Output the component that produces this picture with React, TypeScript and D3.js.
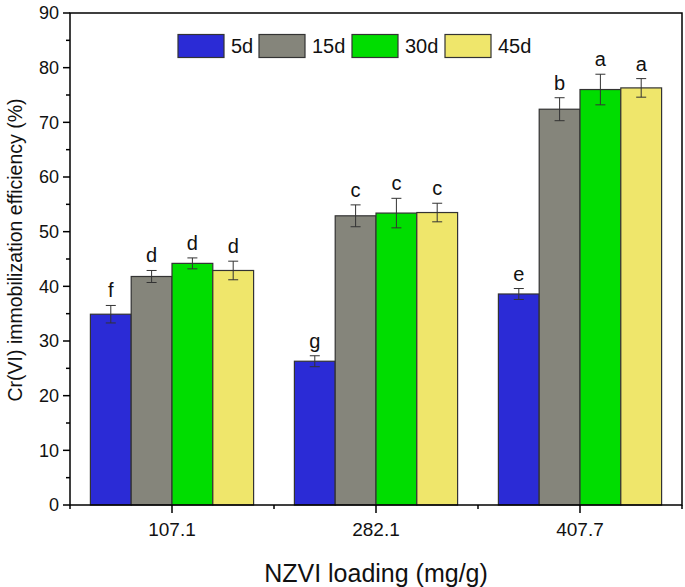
import React from 'react';
import * as d3 from 'd3';

const loadings = ['107.1', '282.1', '407.7'];
const periods = ['5d', '15d', '30d', '45d'];
const colors = ['#2b2bd6', '#85857b', '#00dd00', '#efe66b'];

// efficiency (%) per loading, one value per period
const means = [
  [34.9, 41.8, 44.2, 42.9],
  [26.3, 52.9, 53.4, 53.5],
  [38.6, 72.4, 76.0, 76.3],
];
const errors = [
  [1.6, 1.1, 1.0, 1.7],
  [1.0, 2.0, 2.7, 1.7],
  [1.0, 2.1, 2.8, 1.7],
];
const letters = [
  ['f', 'd', 'd', 'd'],
  ['g', 'c', 'c', 'c'],
  ['e', 'b', 'a', 'a'],
];
const yTicks = [0, 10, 20, 30, 40, 50, 60, 70, 80, 90];

const W = 685;
const H = 587;
const m = { left: 70, right: 3, top: 13, bottom: 82 };
const font = 'Liberation Sans, Arial, sans-serif';

export default function App() {
  const x = d3
    .scaleBand()
    .domain(loadings)
    .range([m.left, W - m.right])
    .paddingInner(0.2)
    .paddingOuter(0.1);
  const xs = d3.scaleBand().domain(periods).range([0, x.bandwidth()]);
  const y = d3.scaleLinear().domain([0, 90]).range([H - m.bottom, m.top]);

  const minorY = d3.range(5, 90, 10);
  const step = x.step();
  const minorX = [0, 1, 2, 3].map((i) => m.left + i * step);

  const legendX = [178, 259, 352, 445];

  return (
    <svg
      width={W}
      height={H}
      style={{ position: 'absolute', left: 0, top: 0, background: '#fff' }}
      fontFamily={font}
    >
      {loadings.map((g, gi) => (
        <g key={g} transform={`translate(${x(g)},0)`}>
          {periods.map((p, pi) => {
            const v = means[gi][pi];
            const e = errors[gi][pi];
            const bx = xs(p)!;
            const cx = bx + xs.bandwidth() / 2;
            return (
              <g key={p}>
                <rect
                  x={bx}
                  y={y(v)}
                  width={xs.bandwidth()}
                  height={y(0) - y(v)}
                  fill={colors[pi]}
                  stroke="#333"
                  strokeWidth={1.2}
                />
                <g stroke="#333" strokeWidth={1}>
                  <line x1={cx} x2={cx} y1={y(v + e)} y2={y(v - e)} />
                  <line x1={cx - 5} x2={cx + 5} y1={y(v + e)} y2={y(v + e)} />
                  <line x1={cx - 5} x2={cx + 5} y1={y(v - e)} y2={y(v - e)} />
                </g>
                <text
                  x={cx}
                  y={y(v + e) - 8}
                  textAnchor="middle"
                  fontSize={20}
                  fill="#111"
                >
                  {letters[gi][pi]}
                </text>
              </g>
            );
          })}
        </g>
      ))}

      {/* frame */}
      <rect
        x={m.left}
        y={m.top}
        width={W - m.right - m.left}
        height={y(0) - m.top}
        fill="none"
        stroke="#000"
        strokeWidth={1.5}
      />

      {/* y axis */}
      {yTicks.map((t) => (
        <g key={t}>
          <line x1={m.left - 7} x2={m.left} y1={y(t)} y2={y(t)} stroke="#000" strokeWidth={1.5} />
          <text x={m.left - 11} y={y(t)} dy="0.35em" textAnchor="end" fontSize={18} fill="#111">
            {t}
          </text>
        </g>
      ))}
      {minorY.map((t) => (
        <line key={t} x1={m.left - 4} x2={m.left} y1={y(t)} y2={y(t)} stroke="#000" strokeWidth={1.5} />
      ))}

      {/* x axis */}
      {loadings.map((g) => {
        const cx = x(g)! + x.bandwidth() / 2;
        return (
          <g key={g}>
            <line x1={cx} x2={cx} y1={y(0)} y2={y(0) + 8} stroke="#000" strokeWidth={1.5} />
            <text x={cx} y={y(0) + 31} textAnchor="middle" fontSize={19} fill="#111">
              {g}
            </text>
          </g>
        );
      })}
      {minorX.map((mx, i) => (
        <line key={i} x1={mx} x2={mx} y1={y(0)} y2={y(0) + 4} stroke="#000" strokeWidth={1.5} />
      ))}

      <text x={376} y={582} textAnchor="middle" fontSize={25} fill="#111">
        NZVI loading (mg/g)
      </text>
      <text
        transform="translate(22,250) rotate(-90)"
        textAnchor="middle"
        fontSize={19.5}
        fill="#111"
      >
        Cr(VI) immobilization efficiency (%)
      </text>

      {/* legend */}
      {periods.map((p, i) => (
        <g key={p} transform={`translate(${legendX[i]},34.5)`}>
          <rect width={46} height={23} fill={colors[i]} stroke="#333" strokeWidth={1.2} />
          <text x={53} y={11.5} dy="0.36em" fontSize={20} fill="#111">
            {p}
          </text>
        </g>
      ))}
    </svg>
  );
}
